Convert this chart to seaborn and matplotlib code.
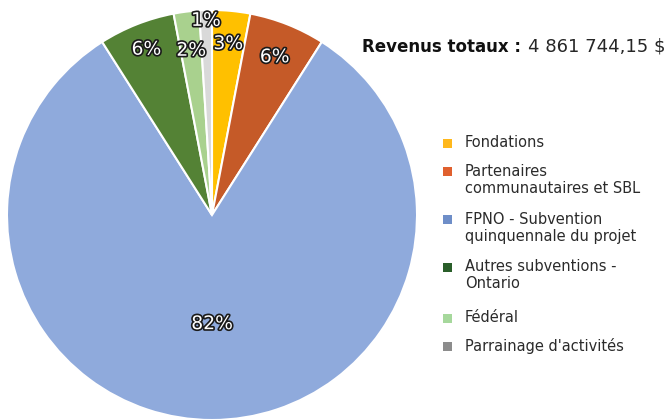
import numpy as np
import seaborn as sns
import matplotlib.pyplot as plt
import matplotlib.patheffects as pe
from matplotlib.patches import Rectangle

# data
categories = ['Fondations', 'Partenaires\ncommunautaires et SBL',
              'FPNO - Subvention\nquinquennale du projet',
              'Autres subventions -\nOntario', 'Fédéral', "Parrainage d'activités"]
shares = [3, 6, 82, 6, 2, 1]
total_label = '4 861 744,15 $'

slice_colors = ['#FFC000', '#C55A28', '#8FAADC', '#548235', '#A9D18E', '#D9D9D9']
legend_colors = ['#FFB81C', '#E0602E', '#6E8EC8', '#2A5E2A', '#A6D89C', '#8C8C8C']

sns.set_theme(style='white')
plt.rcParams['font.family'] = ['DejaVu Sans']

fig = plt.figure(figsize=(6.69, 4.19), dpi=100)
W, H = 669, 419

# pie axes: center (212, 215), radius 205 px
cx, cy, r = 212, 215, 205
ax = fig.add_axes([(cx - r) / W, (H - cy - r) / H, 2 * r / W, 2 * r / H])

wedges, _ = ax.pie(shares, colors=slice_colors, startangle=90, counterclock=False,
                   radius=1, wedgeprops=dict(edgecolor='white', linewidth=1.5))
ax.set_xlim(-1, 1)
ax.set_ylim(-1, 1)
ax.set_aspect('equal')

# percent labels, radial distance per slice
label_r = [0.84, 0.83, 0.53, 0.87, 0.81, 0.95]
for w, s, lr in zip(wedges, shares, label_r):
    ang = np.deg2rad((w.theta1 + w.theta2) / 2)
    ax.text(lr * np.cos(ang), lr * np.sin(ang), f'{s}%', ha='center', va='center',
            fontsize=13.5, color='white',
            path_effects=[pe.withStroke(linewidth=2.4, foreground='#1a1a1a')])

# title: bold part, then the amount right after it
t1 = fig.text(362 / W, 1 - 47 / H, 'Revenus totaux :', fontsize=12, fontweight='bold',
              color='#111111', ha='left', va='center')
fig.canvas.draw()
x_end = t1.get_window_extent().x1
fig.text((x_end + 7) / W, 1 - 47 / H, total_label, fontsize=13, color='#262626',
         ha='left', va='center')

# legend
rows_y = [143, 172, 220, 267, 318, 346]
for lab, col, y in zip(categories, legend_colors, rows_y):
    fig.patches.append(Rectangle((443 / W, 1 - (y + 4.5) / H), 9 / W, 9 / H,
                                 transform=fig.transFigure, facecolor=col,
                                 edgecolor='none'))
    fig.text(465 / W, 1 - (y - 8) / H, lab, fontsize=10.5, color='#2b2b2b',
             ha='left', va='top', linespacing=1.15)

fig.savefig('out.png', dpi=100)
